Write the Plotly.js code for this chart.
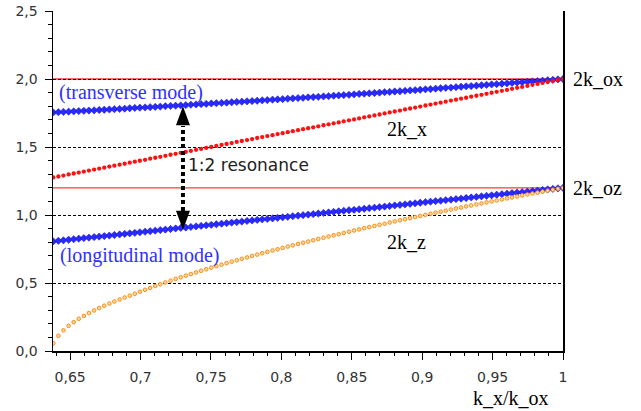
<!DOCTYPE html>
<html>
<head>
<meta charset="utf-8">
<script src="https://cdn.plot.ly/plotly-3.0.1.min.js"></script>
<style>html,body{margin:0;padding:0;background:#fff;}#chart{width:641px;height:411px;}</style>
</head>
<body>
<div id="chart"></div>
<script>
// k_x / k_ox sample positions (shared by all series)
const kx = [
0.6380,0.6416,0.6452,0.6489,0.6525,0.6561,0.6597,0.6633,0.6670,0.6706,
0.6742,0.6778,0.6814,0.6851,0.6887,0.6923,0.6959,0.6995,0.7032,0.7068,
0.7104,0.7140,0.7176,0.7213,0.7249,0.7285,0.7321,0.7357,0.7394,0.7430,
0.7466,0.7502,0.7538,0.7575,0.7611,0.7647,0.7683,0.7719,0.7756,0.7792,
0.7828,0.7864,0.7900,0.7937,0.7973,0.8009,0.8045,0.8081,0.8118,0.8154,
0.8190,0.8226,0.8262,0.8299,0.8335,0.8371,0.8407,0.8443,0.8480,0.8516,
0.8552,0.8588,0.8624,0.8661,0.8697,0.8733,0.8769,0.8805,0.8842,0.8878,
0.8914,0.8950,0.8986,0.9023,0.9059,0.9095,0.9131,0.9167,0.9204,0.9240,
0.9276,0.9312,0.9348,0.9385,0.9421,0.9457,0.9493,0.9529,0.9566,0.9602,
0.9638,0.9674,0.9710,0.9747,0.9783,0.9819,0.9855,0.9891,0.9928,0.9964,
1.0000];

// transverse mode (blue, upper)
const transverse = [
1.754,1.756,1.758,1.760,1.762,1.764,1.766,1.768,1.770,1.772,
1.774,1.776,1.778,1.780,1.782,1.785,1.787,1.789,1.791,1.793,
1.795,1.797,1.800,1.802,1.804,1.806,1.808,1.811,1.813,1.815,
1.817,1.820,1.822,1.824,1.826,1.829,1.831,1.833,1.836,1.838,
1.840,1.843,1.845,1.848,1.850,1.852,1.855,1.857,1.860,1.862,
1.865,1.867,1.869,1.872,1.874,1.877,1.879,1.882,1.884,1.887,
1.890,1.892,1.895,1.897,1.900,1.903,1.905,1.908,1.910,1.913,
1.916,1.918,1.921,1.924,1.926,1.929,1.932,1.935,1.937,1.940,
1.943,1.946,1.948,1.951,1.954,1.957,1.960,1.962,1.965,1.968,
1.971,1.974,1.977,1.980,1.982,1.985,1.988,1.991,1.994,1.997,
2.000];

// 2k_x (red)
const twoKx = [
1.276,1.283,1.290,1.298,1.305,1.312,1.319,1.327,1.334,1.341,
1.348,1.356,1.363,1.370,1.377,1.385,1.392,1.399,1.406,1.414,
1.421,1.428,1.435,1.443,1.450,1.457,1.464,1.471,1.479,1.486,
1.493,1.500,1.508,1.515,1.522,1.529,1.537,1.544,1.551,1.558,
1.566,1.573,1.580,1.587,1.595,1.602,1.609,1.616,1.624,1.631,
1.638,1.645,1.652,1.660,1.667,1.674,1.681,1.689,1.696,1.703,
1.710,1.718,1.725,1.732,1.739,1.747,1.754,1.761,1.768,1.776,
1.783,1.790,1.797,1.805,1.812,1.819,1.826,1.833,1.841,1.848,
1.855,1.862,1.870,1.877,1.884,1.891,1.899,1.906,1.913,1.920,
1.928,1.935,1.942,1.949,1.957,1.964,1.971,1.978,1.986,1.993,
2.000];

// longitudinal mode (blue, lower)
const longitudinal = [
0.806,0.810,0.814,0.818,0.822,0.826,0.830,0.834,0.838,0.841,
0.845,0.849,0.853,0.857,0.861,0.865,0.869,0.873,0.877,0.881,
0.885,0.889,0.893,0.897,0.901,0.905,0.908,0.912,0.916,0.920,
0.924,0.928,0.932,0.936,0.940,0.944,0.948,0.952,0.956,0.960,
0.964,0.968,0.971,0.975,0.979,0.983,0.987,0.991,0.995,0.999,
1.003,1.007,1.011,1.015,1.019,1.023,1.027,1.031,1.035,1.038,
1.042,1.046,1.050,1.054,1.058,1.062,1.066,1.070,1.074,1.078,
1.082,1.086,1.090,1.094,1.098,1.102,1.105,1.109,1.113,1.117,
1.121,1.125,1.129,1.133,1.137,1.141,1.145,1.149,1.153,1.157,
1.161,1.165,1.168,1.172,1.176,1.180,1.184,1.188,1.192,1.196,
1.200];

// 2k_z (orange)
const twoKz = [
0.056,0.112,0.152,0.185,0.212,0.237,0.258,0.279,0.298,0.316,
0.333,0.349,0.364,0.379,0.393,0.407,0.421,0.436,0.450,0.464,
0.478,0.491,0.504,0.517,0.530,0.542,0.554,0.566,0.578,0.590,
0.601,0.613,0.624,0.635,0.646,0.657,0.667,0.678,0.688,0.699,
0.709,0.719,0.729,0.739,0.748,0.758,0.768,0.777,0.787,0.796,
0.805,0.814,0.824,0.833,0.842,0.851,0.859,0.868,0.877,0.886,
0.894,0.903,0.911,0.920,0.928,0.936,0.945,0.953,0.961,0.969,
0.977,0.985,0.993,1.001,1.009,1.017,1.024,1.032,1.040,1.048,
1.055,1.063,1.070,1.078,1.085,1.093,1.100,1.107,1.115,1.122,
1.129,1.136,1.144,1.151,1.158,1.165,1.172,1.179,1.186,1.193,
1.200];

// reference levels
const level2kox = 2.0;
const level2koz = 1.2;

// resonance arrow
const arrowX = 0.7301;
const arrowTop = 1.80;
const arrowBottom = 0.892;

const serif = 'Liberation Serif, Times New Roman, serif';
const sans = 'DejaVu Sans, sans-serif';

const traces = [
  {x: kx, y: transverse, mode: 'markers', type: 'scatter',
   marker: {symbol: 'diamond', size: 5.6, color: '#2a2aff', line: {width: 0.5, color: '#1010d0'}}},
  {x: kx, y: longitudinal, mode: 'markers', type: 'scatter',
   marker: {symbol: 'diamond', size: 5.6, color: '#2a2aff', line: {width: 0.5, color: '#1010d0'}}},
  {x: kx, y: twoKx, mode: 'markers', type: 'scatter',
   marker: {symbol: 'circle', size: 4.3, color: '#ff1010', line: {width: 0}}},
  {x: kx, y: twoKz, mode: 'markers', type: 'scatter',
   marker: {symbol: 'circle', size: 3.6, color: '#ffd9a8', line: {width: 1, color: '#ff8a0a'}}}
];

const layout = {
  width: 641, height: 411,
  margin: {l: 53, r: 78, t: 11, b: 60},
  paper_bgcolor: '#fff', plot_bgcolor: '#fff',
  showlegend: false,
  separators: ', ',
  xaxis: {
    range: [0.6378, 1.0], dtick: 0.05, tick0: 0.65,
    ticks: 'outside', ticklen: 7, tickwidth: 1, tickcolor: '#000',
    minor: {dtick: 0.01, ticks: 'outside', ticklen: 3, tickcolor: '#000', showgrid: false},
    showgrid: false, zeroline: false,
    showline: true, linecolor: '#000', linewidth: 2,
    tickfont: {family: sans, size: 14, color: '#333'},
    ticklabelstandoff: 5
  },
  yaxis: {
    range: [0, 2.5], dtick: 0.5, tick0: 0, tickformat: '.1f',
    ticks: 'outside', ticklen: 7, tickwidth: 1, tickcolor: '#000',
    minor: {dtick: 0.1, ticks: 'outside', ticklen: 4, tickcolor: '#000', showgrid: false},
    showgrid: true, gridcolor: '#000', gridwidth: 1, griddash: '3px,2px',
    zeroline: false,
    showline: true, linecolor: '#000', linewidth: 1.5, mirror: true,
    tickfont: {family: sans, size: 14, color: '#333'},
    ticklabelstandoff: 4
  },
  shapes: [
    {type: 'line', xref: 'paper', x0: 0, x1: 1, yref: 'y', y0: level2kox, y1: level2kox,
     line: {color: '#ff3a3a', width: 1.6}, layer: 'between'},
    {type: 'line', xref: 'paper', x0: 0, x1: 1, yref: 'y', y0: level2koz, y1: level2koz,
     line: {color: '#ff3a3a', width: 1.2}, layer: 'between'},
    {type: 'line', xref: 'x', yref: 'y', x0: arrowX, x1: arrowX, y0: 1.03, y1: 1.655,
     line: {color: '#000', width: 4, dash: '4px,3px'}, layer: 'above'},
    {type: 'path', xref: 'x', yref: 'y', xsizemode: 'pixel', ysizemode: 'pixel',
     xanchor: arrowX, yanchor: arrowTop, path: 'M0,0 L-7,-19 L7,-19 Z',
     fillcolor: '#000', line: {width: 0}, layer: 'above'},
    {type: 'path', xref: 'x', yref: 'y', xsizemode: 'pixel', ysizemode: 'pixel',
     xanchor: arrowX, yanchor: arrowBottom, path: 'M0,0 L-7,19 L7,19 Z',
     fillcolor: '#000', line: {width: 0}, layer: 'above'}
  ],
  annotations: [
    {xref: 'paper', yref: 'paper', x: 0.898, y: -0.139, xanchor: 'center', yanchor: 'middle',
     text: 'k_x/k_ox', showarrow: false, font: {family: serif, size: 20, color: '#000'}},
    {xref: 'paper', yref: 'y', x: 1, y: level2kox, xanchor: 'left', xshift: 8,
     text: '2k_ox', showarrow: false, font: {family: serif, size: 20, color: '#000'}},
    {xref: 'paper', yref: 'y', x: 1, y: level2koz, xanchor: 'left', xshift: 8,
     text: '2k_oz', showarrow: false, font: {family: serif, size: 20, color: '#000'}},
    {xref: 'x', yref: 'y', x: 0.889, y: 1.635, text: '2k_x', showarrow: false,
     font: {family: serif, size: 20, color: '#000'}},
    {xref: 'x', yref: 'y', x: 0.889, y: 0.804, text: '2k_z', showarrow: false,
     font: {family: serif, size: 20, color: '#000'}},
    {xref: 'x', yref: 'y', x: 0.6933, y: 1.899, text: '(transverse mode)', showarrow: false,
     font: {family: serif, size: 20, color: '#3030ff'}},
    {xref: 'x', yref: 'y', x: 0.699, y: 0.701, text: '(longitudinal mode)', showarrow: false,
     font: {family: serif, size: 20, color: '#3030ff'}},
    {xref: 'x', yref: 'y', x: 0.7764, y: 1.37, text: '1:2 resonance', showarrow: false,
     font: {family: sans, size: 17, color: '#222'}}
  ]
};

Plotly.newPlot('chart', traces, layout, {displayModeBar: false, staticPlot: true});
</script>
</body>
</html>
